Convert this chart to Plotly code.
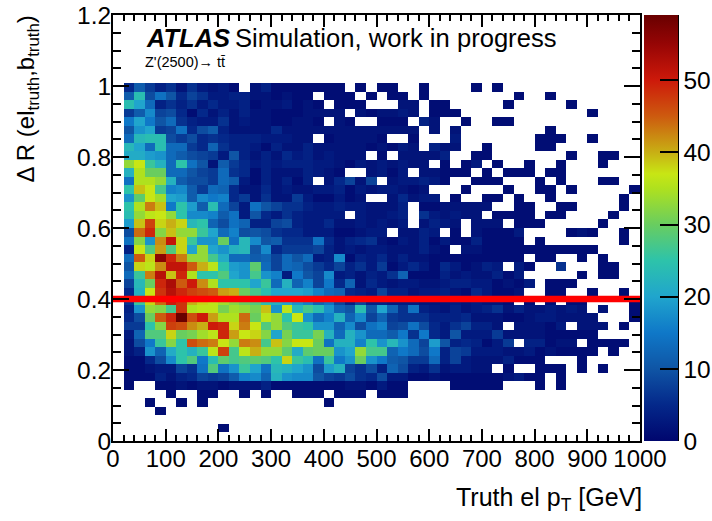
import plotly.graph_objects as go

FONT = "Liberation Sans"
n_bins_x = 50
n_bins_y = 50
x_centres = [10 + 20 * i for i in range(n_bins_x)]
y_centres = [0.012 + 0.024 * j for j in range(n_bins_y)]

# counts per pT bin, bin 20-40 GeV first, one list per delta R bin (index = bin number)
row_41 = [5,11,7,4,6,2,6,3,2,3,1,0,2,4,1,1,1,1,1,1,1,0,1,0,1,1,0,0,1,0,0,0,0,1,0,1]
row_40 = [11,24,9,14,10,5,8,6,3,3,4,4,2,2,1,2,1,1,0,1,1,1,0,1,0,1,1,0,1,0,0,0,0,0,0,0,0,1,0,0,1]
row_39 = [24,20,13,4,6,4,6,3,5,3,3,4,1,2,2,3,1,2,1,0,1,1,1,0,0,0,2,2,0,1,1,0,0,0,0,0,1,0,0,0,0,0,1]
row_38 = [7,11,17,8,9,5,1,5,2,4,2,4,2,2,1,1,1,2,2,2,2,0,2,1,2,2,3,2,0,1,1,1,0,0,0,0,0,0,0,0,0,0,0,0,1]
row_37 = [15,20,15,10,13,6,4,3,3,6,2,3,2,2,1,1,2,2,1,0,2,1,0,0,1,1,1,0,4,2,0,0,1,0,0,1,1]
row_36 = [10,18,20,7,8,14,5,9,11,4,2,2,2,2,5,2,2,2,2,2,2,2,2,2,2,2,2,2,0,2,0,2,0,0,0,0,0,0,0,0,1]
row_35 = [13,23,24,24,9,7,9,5,6,5,4,4,4,3,3,3,2,2,0,1,2,2,2,2,1,0,0,1,0,0,0,3,0,0,0,0,0,0,0,1,1,1,0,0,1]
row_34 = [23,20,13,24,13,13,7,5,12,6,4,4,3,1,4,2,2,4,2,2,2,2,2,1,2,1,3,2,0,4,2,2,0,0,1,0,0,0,0,1,1]
row_33 = [21,21,19,18,13,11,9,8,7,3,10,4,2,4,2,5,3,4,2,3,2,2,2,0,1,0,2,2,2,2,4,0,0,1,1,0,0,0,0,0,0,0,1,0,0,1,1]
row_32 = [33,37,26,22,13,25,14,10,2,11,7,5,3,4,3,4,4,4,3,3,2,1,3,2,3,2,3,2,2,0,1,0,1,3,0,1,0,0,1,0,0,1,0,0,0,1]
row_31 = [22,35,30,30,13,13,10,8,7,13,6,5,1,4,2,2,2,4,3,2,1,0,0,2,3,1,3,0,2,2,1,1,1,0,1,0,1,1,1,0,1,1]
row_30 = [14,35,35,33,22,11,9,9,7,13,11,3,1,4,2,4,1,4,0,2,5,8,2,8,0,2,3,3,4,3,1,0,0,1,1,1,0,0,0,1,0,1,0,0,0,1,1]
row_29 = [25,39,37,27,16,17,11,7,13,12,5,2,2,5,2,3,2,2,3,3,4,1,3,2,3,3,2,1,2,0,0,0,1,0,0,0,1,0,0,1,1,0,1,0,0,0,0,0,1]
row_28 = [18,29,37,34,20,19,11,17,15,16,5,7,2,6,2,2,7,3,1,1,3,1,2,0,0,2,5,2,3,3,0,1,0,0,1,1,0,1,0,0,1,0,0,0,0,0,0,1]
row_27 = [25,35,43,39,15,25,19,11,24,13,8,3,14,10,8,6,6,4,3,3,4,3,3,2,2,2,4,0,1,1,2,2,2,2,2,0,0,1,1,0,0,1,1,0,0,0,0,1]
row_26 = [24,33,36,37,33,25,17,17,16,11,14,3,10,5,3,6,4,3,3,3,3,0,3,2,2,3,4,0,6,3,2,3,2,2,0,1,1,1,1,0,1,1,0,0,0,0,1]
row_25 = [19,39,47,38,40,38,23,25,12,9,14,12,4,4,8,9,4,3,3,5,2,2,3,2,3,2,3,0,2,4,3,2,0,2,2,2,0,1,1,1,0,0,0,0,0,1]
row_24 = [9,44,49,32,39,33,33,26,20,13,16,9,10,9,6,5,5,3,3,3,1,1,2,3,3,0,2,2,4,3,0,1,0,2,1,1,1,3,0,0,0,0,1,2,1,0,0,1]
row_23 = [14,32,18,42,51,38,26,18,18,30,14,23,17,10,11,6,6,6,14,5,2,4,5,6,2,1,3,2,4,1,3,1,1,4,1,1,1,1,0,1,0,0,0,0,0,0,0,1]
row_22 = [4,37,28,41,28,38,20,33,20,18,22,23,10,17,5,7,7,7,8,4,2,3,2,3,3,2,2,2,4,2,1,0,2,2,1,1,1,1,1,1,1,1,1,1,1]
row_21 = [13,45,38,56,49,43,33,33,27,21,13,13,11,12,8,13,10,13,3,4,17,1,4,3,5,2,4,2,2,1,1,1,1,1,1,1,1,1,0,1,1,0,0,1,0,1]
row_20 = [10,38,36,42,51,51,45,40,36,25,19,18,29,13,8,13,12,9,7,5,8,4,6,3,7,1,3,5,3,1,5,3,1,2,4,3,0,3,1,0,0,6,0,0,0,1,1]
row_19 = [13,26,43,52,39,49,35,25,25,28,20,18,27,18,16,3,15,10,8,17,3,4,2,4,3,6,12,1,1,1,4,2,3,2,2,4,1,3,0,0,0,0,0,1,0,1,1]
row_18 = [8,23,30,49,53,45,50,42,35,25,25,25,20,26,13,22,12,16,8,15,5,12,2,5,3,2,3,3,2,2,3,4,4,3,3,1,2,1,3,0,1,1,1]
row_17 = [5,22,37,48,52,49,47,46,45,41,40,30,27,24,20,20,20,19,16,13,12,5,4,3,8,4,4,2,3,3,4,2,1,5,3,1,1,2,0,0,1,1,0,0,1,0,0,1]
row_16 = [6,26,38,44,50,48,40,38,36,34,32,30,28,24,22,20,18,16,12,14,8,4,8,4,4,3,3,3,2,2,2,3,2,3,2,2,1,0,1,0,1,0,1,1,0,0,0,0,1]
row_15 = [4,18,33,32,27,48,35,36,36,31,34,33,31,39,18,36,23,27,24,18,12,10,24,10,20,12,6,14,4,3,2,4,2,3,4,6,2,4,2,2,3,2,3,2,0,2,0,0,1]
row_14 = [5,9,30,45,49,59,46,50,41,35,35,44,30,36,33,25,37,18,13,16,22,12,17,8,12,7,6,6,6,4,4,4,5,2,2,2,1,1,2,3,3,2,2,2,2,0,0,0,1]
row_13 = [7,7,25,32,47,46,42,40,50,49,38,43,37,28,33,28,26,25,18,18,12,17,9,14,16,8,9,14,9,5,3,6,8,4,4,2,0,2,2,2,1,3,0,2,2,2,0,1]
row_12 = [3,12,28,28,38,30,31,34,36,49,41,37,38,32,20,31,26,26,31,22,13,22,18,13,13,11,15,6,15,5,3,10,3,3,3,7,2,2,2,2,1,1,1,1,1]
row_11 = [2,9,15,26,32,25,46,44,43,37,33,43,42,27,39,32,37,37,30,14,22,22,16,25,18,23,18,13,8,19,10,4,5,4,1,3,7,0,4,4,1,2,2,0,1,1,1,1]
row_10 = [2,4,18,12,21,25,22,26,36,47,27,36,40,33,33,29,21,29,30,30,18,20,33,27,27,12,15,13,9,15,4,8,7,3,3,3,2,2,3,1,2,1,1,1,1,0,1]
row_09 = [1,1,5,9,17,25,28,15,24,29,27,28,29,28,25,38,26,24,14,26,15,18,30,18,15,11,10,7,7,13,4,8,3,2,2,2,4,1,1,1,0,0,0,1]
row_08 = [1,1,2,3,3,8,6,14,28,14,18,26,20,14,23,22,20,18,9,19,22,8,6,9,4,12,9,4,3,6,2,3,3,2,2,0,1,0,0,1,1,1,0,1,0,1]
row_07 = [1,1,1,4,2,4,5,8,7,8,11,16,17,12,22,18,17,17,10,8,7,9,6,5,9,3,3,1,1,2,1,1,1,1,1,1,2,3,1,1,0,1]
row_06 = [1,0,0,1,1,2,1,2,2,1,2,2,2,4,1,1,1,1,1,1,1,2,2,1,3,1,1,0,0,0,0,1,1,1,1,1,0,0,0,1,0,1]
row_05 = [0,0,0,0,1,0,0,1,1,0,0,1,0,1,0,0,1,1,1,0,1,1,1,0,1,1,1]
row_04 = [0,0,1,0,0,1,0,1,0,0,0,0,0,0,0,0,0,0,0,1]
row_03 = [0,0,0,1]
row_02 = []
row_01 = [0,0,0,0,0,0,0,0,0,1]
row_00 = []

rows_by_bin = [row_00,row_01,row_02,row_03,row_04,row_05,row_06,row_07,row_08,row_09,
               row_10,row_11,row_12,row_13,row_14,row_15,row_16,row_17,row_18,row_19,
               row_20,row_21,row_22,row_23,row_24,row_25,row_26,row_27,row_28,row_29,
               row_30,row_31,row_32,row_33,row_34,row_35,row_36,row_37,row_38,row_39,
               row_40,row_41]

def full_row(r):
    cells = [0] + list(r)
    cells += [0] * (n_bins_x - len(cells))
    return [v if v > 0 else None for v in cells]

z = [full_row(r) for r in rows_by_bin]
z += [[None] * n_bins_x for _ in range(n_bins_y - len(z))]

zmax = 59
palette_values = [0, 5, 10, 15, 20, 25, 30, 35, 37, 40, 45, 50, 55, 59]
palette_colors = ["#00066e", "#04288a", "#0f55a5", "#0f78c8", "#20a5cd", "#2dc3aa", "#69cd5f",
                  "#afe11e", "#c8e614", "#c8af14", "#cd5a0f", "#cd190a", "#960505", "#690000"]
colorscale = [[v / zmax, c] for v, c in zip(palette_values, palette_colors)]

cut_x = [0, 1000]
cut_y = [0.4, 0.4]

W, H = 712, 521
L, R, T, B = 113, 640, 15, 441
CB_SHIFT = 51

fig = go.Figure()
fig.add_trace(go.Heatmap(
    x=x_centres, y=y_centres, z=z, zmin=0, zmax=zmax, colorscale=colorscale,
    hoverongaps=False, xgap=0, ygap=0,
    colorbar=dict(
        thickness=34, thicknessmode="pixels", len=B - T, lenmode="pixels",
        xref="container", yref="container",
        x=644 / W, xanchor="left", xpad=0, y=1 - ((T + B) / 2 + CB_SHIFT) / H, yanchor="middle", ypad=0,
        outlinewidth=0, borderwidth=0,
        tick0=0, dtick=10, ticks="inside", ticklen=18, tickwidth=2, tickcolor="black",
        tickfont=dict(family=FONT, size=24.5, color="black"),
    ),
))
fig.add_trace(go.Scatter(x=cut_x, y=cut_y, mode="lines", line=dict(color="#ff0000", width=6.5),
                         showlegend=False, hoverinfo="skip"))

axis_common = dict(
    automargin=False, tickangle=0,
    showgrid=False, zeroline=False, showline=True, linecolor="black", linewidth=2,
    mirror="ticks", ticks="inside", tickcolor="black", tickwidth=2,
)
fig.update_layout(
    template="none",
    width=W, height=H, autosize=False,
    margin=dict(l=L, r=W - R, t=T, b=H - B, pad=0),
    paper_bgcolor="white", plot_bgcolor="white", showlegend=False,
    xaxis=dict(range=[0, 1000], tick0=0, dtick=100, ticklen=12, ticklabelstandoff=-5,
               tickfont=dict(family=FONT, size=24, color="black"),
               minor=dict(dtick=20, tick0=0, ticks="inside", ticklen=6, tickwidth=2, tickcolor="black", showgrid=False),
               **axis_common),
    yaxis=dict(range=[0, 1.2], tick0=0, dtick=0.2, ticklen=16, ticklabelstandoff=-5,
               tickfont=dict(family=FONT, size=24.5, color="black"),
               minor=dict(dtick=0.05, tick0=0, ticks="inside", ticklen=8, tickwidth=2, tickcolor="black", showgrid=False),
               **axis_common),
    annotations=[
        dict(xref="paper", yref="paper", x=(144 - L) / (R - L), y=1 - (38 - T) / (B - T), xanchor="left", yanchor="middle",
             text="<b><i>ATLAS</i></b>", showarrow=False, font=dict(family=FONT, size=25.5, color="black")),
        dict(xref="paper", yref="paper", x=(233 - L) / (R - L), y=1 - (38 - T) / (B - T), xanchor="left", yanchor="middle",
             text="Simulation, work in progress", showarrow=False, font=dict(family=FONT, size=25.6, color="black")),
        dict(xref="paper", yref="paper", x=(143 - L) / (R - L), y=1 - (62 - T) / (B - T), xanchor="left", yanchor="middle",
             text="Z'(2500)\u2192 tt\u0304", showarrow=False, font=dict(family=FONT, size=14.5, color="black")),
        dict(xref="paper", yref="paper", x=(644 - L) / (R - L), y=1 - (499 - T) / (B - T), xanchor="right", yanchor="middle",
             text="Truth el p<sub>T</sub> [GeV]", showarrow=False, font=dict(family=FONT, size=25, color="black")),
        dict(xref="paper", yref="paper", x=(27 - L) / (R - L), y=1 - (14 - T) / (B - T), xanchor="center", yanchor="top",
             text="\u0394 R (el<sub>truth</sub>,b<sub>truth</sub>)", textangle=-90, showarrow=False,
             font=dict(family=FONT, size=24, color="black")),
    ],
    shapes=[
        dict(type="line", xref="paper", yref="paper", x0=(678 - L) / (R - L), x1=(678 - L) / (R - L), y0=0, y1=1,
             line=dict(color="black", width=2)),
    ],
)
fig.write_html("out.html", config={"displayModeBar": False},
               post_script="document.body.style.margin='0';document.body.style.overflow='hidden';")
